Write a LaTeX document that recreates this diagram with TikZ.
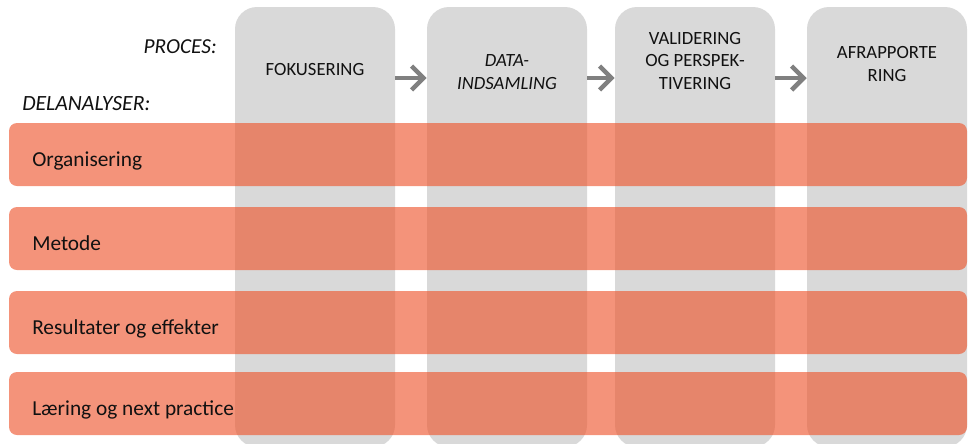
\documentclass[tikz,border=0pt]{standalone}
\usepackage{fontspec}
\setmainfont{Carlito}
\usetikzlibrary{arrows.meta,calc}
\definecolor{colgray}{HTML}{D9D9D9}
\definecolor{bandorange}{RGB}{238,84,44}
\definecolor{arrowgray}{HTML}{808080}
\definecolor{ink}{HTML}{111111}
\tikzset{
  colbox/.style={fill=colgray, draw=none, rounded corners=16.5pt,
    minimum width=120pt, minimum height=330pt, inner sep=0pt},
  band/.style={fill=bandorange, fill opacity=0.63, draw=none, rounded corners=6pt,
    minimum width=718.5pt, minimum height=47.25pt, inner sep=0pt},
  head/.style={text=ink, align=center, inner sep=0pt, anchor=base,
    font=\fontsize{14}{16.9}\selectfont},
  lane/.style={text=ink, inner sep=0pt, anchor=base west,
    font=\fontsize{16}{18}\selectfont},
  tag/.style={text=ink, inner sep=0pt, font=\fontsize{16}{18}\selectfont\itshape},
  flow/.style={draw=arrowgray, line width=3.4pt,
    -{Straight Barb[length=9pt,width=18pt]}}
}
\begin{document}
\begin{tikzpicture}[x=0.75pt,y=-0.75pt]
\useasboundingbox (0,0) rectangle (969,443);
\clip (0,0) rectangle (969,443);

% process columns
\node[colbox] (c1) at (315,227) {};
\node[colbox] (c2) at (507,227) {};
\node[colbox] (c3) at (695,227) {};
\node[colbox] (c4) at (887,227) {};

% column headings (anchored on the baseline of the last line)
\node[head] (h1) at (315,75) {FOKUSERING};
\node[head] (h2) at (507,89.3) {\itshape DATA-\\\itshape INDSAMLING};
\node[head] (h3) at (695,89.3) {VALIDERING\\OG PERSPEK-\\TIVERING};
\node[head] (h4) at (887,81) {AFRAPPORTE\\RING};

% arrows between the columns
\coordinate (ay) at (0,78);
\draw[flow] (c1.east |- ay) -- (c2.west |- ay);
\draw[flow] (c2.east |- ay) -- (c3.west |- ay);
\draw[flow] (c3.east |- ay) -- (c4.west |- ay);

% row labels
\node[tag, anchor=base east] (proc) at (217,53.3) {PROCES:};
\node[tag, anchor=base west, font=\fontsize{16.3}{18}\selectfont\itshape] (dela) at (22,110) {DELANALYSER:};

% sub-analysis bands
\node[band] (b1) at (488,154.5) {};
\node[band] (b2) at (488,238.5) {};
\node[band] (b3) at (488,322.5) {};
\node[band] (b4) at (488,403.5) {};

\node[lane] (l1) at (32,166.5) {Organisering};
\node[lane] (l2) at (32,250.5) {Metode};
\node[lane] (l3) at (32,334.5) {Resultater og effekter};
\node[lane] (l4) at (32,415.5) {Læring og next practice};
\end{tikzpicture}
\end{document}
